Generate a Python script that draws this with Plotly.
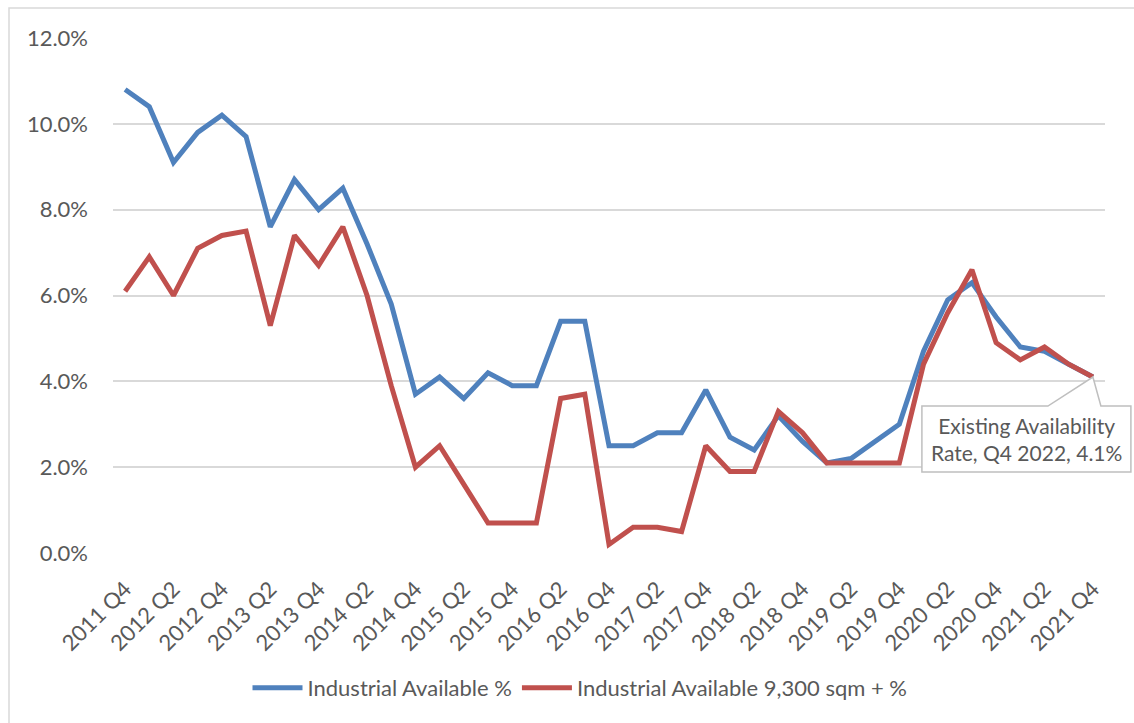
import plotly.graph_objects as go

quarters = [
    "2011 Q4", "2012 Q1", "2012 Q2", "2012 Q3", "2012 Q4", "2013 Q1", "2013 Q2", "2013 Q3", "2013 Q4",
    "2014 Q1", "2014 Q2", "2014 Q3", "2014 Q4", "2015 Q1", "2015 Q2", "2015 Q3", "2015 Q4",
    "2016 Q1", "2016 Q2", "2016 Q3", "2016 Q4", "2017 Q1", "2017 Q2", "2017 Q3", "2017 Q4",
    "2018 Q1", "2018 Q2", "2018 Q3", "2018 Q4", "2019 Q1", "2019 Q2", "2019 Q3", "2019 Q4",
    "2020 Q1", "2020 Q2", "2020 Q3", "2020 Q4", "2021 Q1", "2021 Q2", "2021 Q3", "2021 Q4",
]

industrial_available = [
    10.8, 10.4, 9.1, 9.8, 10.2, 9.7, 7.6, 8.7, 8.0, 8.5, 7.2, 5.8, 3.7, 4.1, 3.6, 4.2, 3.9,
    3.9, 5.4, 5.4, 2.5, 2.5, 2.8, 2.8, 3.8, 2.7, 2.4, 3.2, 2.6, 2.1, 2.2, 2.6, 3.0,
    4.7, 5.9, 6.3, 5.5, 4.8, 4.7, 4.4, 4.1,
]

industrial_available_9300 = [
    6.1, 6.9, 6.0, 7.1, 7.4, 7.5, 5.3, 7.4, 6.7, 7.6, 6.0, 3.9, 2.0, 2.5, 1.6, 0.7, 0.7,
    0.7, 3.6, 3.7, 0.2, 0.6, 0.6, 0.5, 2.5, 1.9, 1.9, 3.3, 2.8, 2.1, 2.1, 2.1, 2.1,
    4.4, 5.6, 6.6, 4.9, 4.5, 4.8, 4.4, 4.1,
]

y_ticks = [0, 2, 4, 6, 8, 10, 12]
y_tick_labels = ["0.0%", "2.0%", "4.0%", "6.0%", "8.0%", "10.0%", "12.0%"]
x_tick_labels = quarters[::2]

callout_text = "Existing Availability<br>Rate, Q4 2022, 4.1%"

FONT = "Lato, 'Open Sans', sans-serif"
GREY = "#595959"
W, H = 1134, 723
ML, MR, MT, MB = 113, 29, 38, 170
PW, PH = W - ML - MR, H - MT - MB
Y_RANGE = [0, 12]

fig = go.Figure()
fig.add_trace(go.Scatter(
    x=quarters, y=industrial_available, mode="lines",
    name="Industrial Available %",
    line=dict(color="#4f81bd", width=5, shape="linear"),
))
fig.add_trace(go.Scatter(
    x=quarters, y=industrial_available_9300, mode="lines",
    name="Industrial Available 9,300 sqm + %",
    line=dict(color="#c0504d", width=5, shape="linear"),
))

# chart outer border (Excel chart area)
fig.add_shape(type="rect", xref="paper", yref="paper",
              x0=(9 - ML) / PW, x1=(W + 10 - ML) / PW,
              y0=-(H + 10 - MT - PH) / PH, y1=1 + (MT - 8) / PH,
              line=dict(color="#d9d9d9", width=1.5), fillcolor="rgba(0,0,0,0)",
              layer="below")

# callout with wedge pointing to last point (domain refs so it isn't clipped)
n = len(quarters)
last_x = quarters[-1]
last_y = industrial_available[-1]
anchor_xd = (n - 1 + 0.5) / n
anchor_yd = (last_y - Y_RANGE[0]) / (Y_RANGE[1] - Y_RANGE[0])
fig.add_shape(type="path", xref="x domain", yref="y domain",
              xsizemode="pixel", ysizemode="pixel",
              xanchor=anchor_xd, yanchor=anchor_yd,
              path="M -171,-29 L -45,-29 L 0,0 L 8,-29 L 38,-29 L 38,-95 L -171,-95 Z",
              line=dict(color="#bfbfbf", width=1.5), fillcolor="white", layer="above")
fig.add_annotation(x=last_x, y=last_y, xref="x", yref="y",
                   text=callout_text, showarrow=False,
                   xshift=-66, yshift=-62,
                   font=dict(family=FONT, size=21, color=GREY),
                   align="center")

fig.update_layout(
    width=W, height=H,
    margin=dict(l=ML, r=MR, t=MT, b=MB),
    paper_bgcolor="white", plot_bgcolor="white",
    font=dict(family=FONT, size=22, color=GREY),
    showlegend=True,
    legend=dict(orientation="h", x=(580 - ML) / PW, xanchor="center",
                y=-(688 - MT - PH) / PH, yanchor="middle",
                font=dict(family=FONT, size=22, color=GREY),
                itemwidth=50, traceorder="normal"),
    xaxis=dict(
        type="category", range=[-0.5, n - 0.5],
        tickmode="array", tickvals=x_tick_labels, ticktext=x_tick_labels,
        tickangle=-45, showgrid=False, zeroline=False, showline=False,
        ticks="", tickfont=dict(family=FONT, size=22, color=GREY),
        ticklabelstandoff=18,
    ),
    yaxis=dict(
        range=Y_RANGE, tickmode="array", tickvals=y_ticks, ticktext=y_tick_labels,
        showgrid=True, gridcolor="#d9d9d9", gridwidth=1.5, zeroline=False,
        showline=False, ticks="", tickfont=dict(family=FONT, size=22, color=GREY),
        ticklabelstandoff=24,
    ),
)

fig.write_html("out.html")
